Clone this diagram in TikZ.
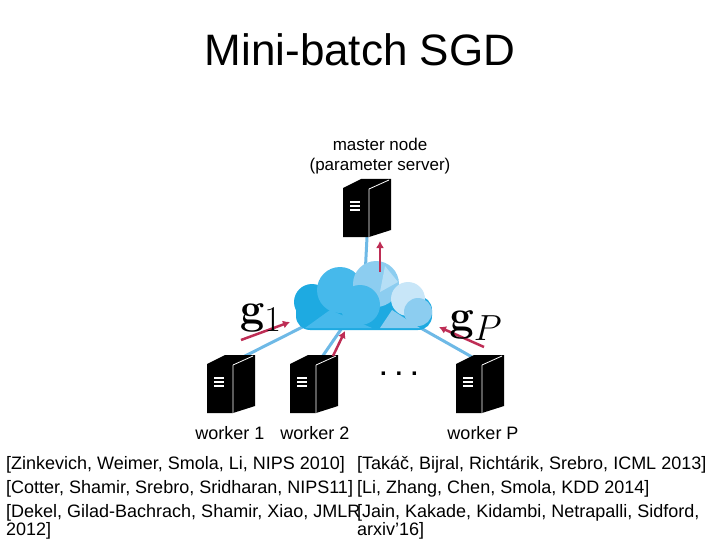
\documentclass[tikz,border=0pt]{standalone}
\usepackage[no-math]{fontspec}
\usepackage{graphicx}
\setmainfont{Liberation Sans}
\usetikzlibrary{arrows.meta}
\definecolor{link}{RGB}{110,185,230}
\definecolor{arr}{RGB}{190,45,85}
\definecolor{c1}{RGB}{30,170,225}
\definecolor{c2}{RGB}{70,185,235}
\definecolor{c3}{RGB}{140,205,240}
\definecolor{c4}{RGB}{200,230,248}
\begin{document}
\begin{tikzpicture}[x=1pt,y=-1pt,
  lbl/.style={font=\fontsize{18}{20}\selectfont,inner sep=0},
  cite/.style={font=\fontsize{18}{20}\selectfont,inner sep=0,anchor=base west},
  lnk/.style={link,line width=3pt},
  ar/.style={arr,line width=2.5pt,-{Latex[length=7pt,width=8pt]}},
  srv/.style={minimum width=48pt,minimum height=58pt,inner sep=0},
  server/.pic={
    \fill[black] (-24,-20)--(-6,-29)--(24,-29)--(24,22)--(2,29)--(-24,29)--cycle;
    \draw[white,line width=0.8pt] (2,-19)--(2,29) (2,-19)--(22,-28);
    \foreach \yy in {-6,-2,2} \draw[white,line width=1.2pt] (-17,\yy)--(-7,\yy);
  }]
\useasboundingbox (0,0) rectangle (720,540);
\node[font=\fontsize{44}{48}\selectfont,inner sep=0] (title) at (360,50) {Mini-batch SGD};
\node[font=\fontsize{17}{20}\selectfont,align=center,inner sep=0] (mlab) at (380,156) {master node\\(parameter server)};
\node[srv] (m) at (367,208) {};
\node[srv] (w1) at (231,384) {};
\node[srv] (w2) at (314,384) {};
\node[srv] (wp) at (480,384) {};
\node[minimum width=136pt,minimum height=66pt,inner sep=0] (cloud) at (364,296) {};
\draw[lnk] (m.south) -- (cloud.center);
\draw[lnk] (cloud.center) -- ([xshift=12pt,yshift=27pt]w1.center);
\draw[lnk] (cloud.center) -- ([xshift=8pt,yshift=27pt]w2.center);
\draw[lnk] (cloud.center) -- ([xshift=-8pt,yshift=27pt]wp.center);
% cloud
\fill[c1] (312,302) circle[radius=18];
\fill[c1, rounded corners=14pt] (296,296) rectangle (432,330);
\fill[c2] (340,290) circle[radius=23];
\fill[c3] (376,284) circle[radius=23];
\fill[c2] (360,305) circle[radius=20];
\fill[c4] (408,299) circle[radius=17];
\fill[c3] (418,312) circle[radius=14];
\fill[c2] (330,310) -- (372,328) -- (305,328) -- cycle;
\fill[c4!70!c3] (385,266) -- (398,282) -- (380,292) -- cycle;
\fill[c3] (392,310) -- (420,328) -- (380,328) -- cycle;
\pic at (m) {server};
\pic at (w1) {server};
\pic at (w2) {server};
\pic at (wp) {server};
\coordinate (a0) at (380,272); \coordinate (a1) at (380,241);
\draw[ar] (a0) -- (a1);
\coordinate (b0) at (241,340); \coordinate (b1) at (290,322);
\draw[ar] (b0) -- (b1);
\coordinate (d0) at (333,356); \coordinate (d1) at (345,331);
\draw[ar] (d0) -- (d1);
\coordinate (e0) at (484,347); \coordinate (e1) at (439,327);
\draw[ar] (e0) -- (e1);
\node[inner sep=0,font=\Huge] (g1) at (261,318) {\scalebox{1.75}{$\mathbf{g}_1$}};
\node[inner sep=0,font=\Huge] (gp) at (476,326) {\scalebox{1.75}{$\mathbf{g}_P$}};
\node[font=\fontsize{24}{26}\selectfont\bfseries,inner sep=0] (dots) at (399,374) {. . .};
\node[lbl] (l1) at (230,433) {worker 1};
\node[lbl] (l2) at (315,433) {worker 2};
\node[lbl] (lp) at (483,433) {worker P};
\node[cite] (r1) at (6,469) {[Zinkevich, Weimer, Smola, Li, NIPS 2010]};
\node[cite] (r2) at (6,493) {[Cotter, Shamir, Srebro, Sridharan, NIPS11]};
\node[cite] (r3) at (6,517) {[Dekel, Gilad-Bachrach, Shamir, Xiao, JMLR};
\node[cite] (r4) at (6,535) {2012]};
\node[cite] (s1) at (357,469) {[Takáč, Bijral, Richtárik, Srebro, ICML 2013]};
\node[cite] (s2) at (357,493) {[Li, Zhang, Chen, Smola, KDD 2014]};
\node[cite] (s3) at (357,517) {[Jain, Kakade, Kidambi, Netrapalli, Sidford,};
\node[cite] (s4) at (357,535) {arxiv'16]};
\end{tikzpicture}
\end{document}
